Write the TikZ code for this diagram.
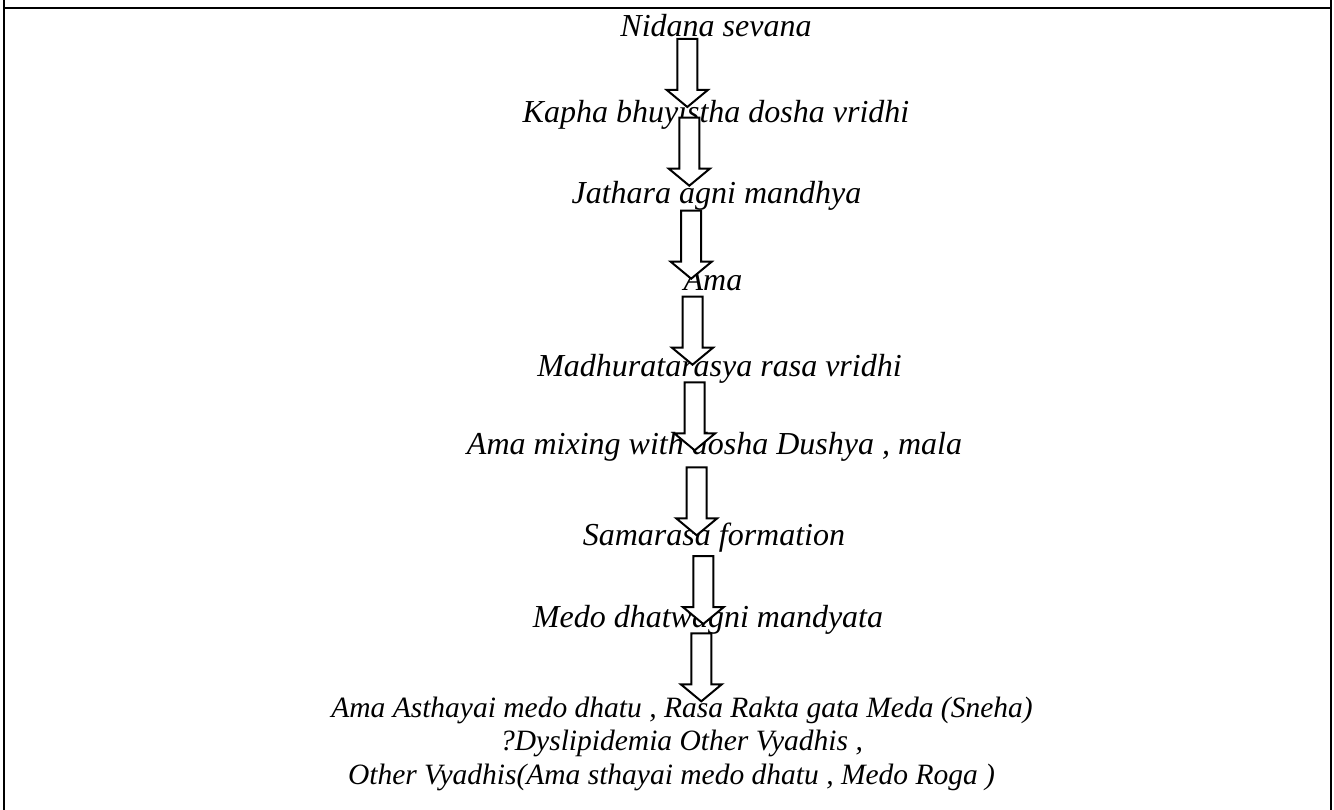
\documentclass[tikz,border=0pt]{standalone}
\usepackage{fontspec}
\setmainfont{Liberation Serif}
\begin{document}
\begin{tikzpicture}[x=1pt,y=-1pt,
  frameline/.style={line width=2pt, line cap=rect},
  arrowline/.style={line width=2pt, fill=white, draw=black, line join=miter},
  stepa/.style={anchor=base, inner sep=0pt, font=\fontsize{32}{36}\selectfont\itshape},
  stepb/.style={anchor=base, inner sep=0pt, font=\fontsize{29.5}{34}\selectfont\itshape},
  blockdown/.pic={\draw[arrowline] (-10,0) -- (-10,51) -- (-20.5,51) -- (0,68) -- (20.5,51) -- (10,51) -- (10,0) -- cycle;}
]
\useasboundingbox (0,0) rectangle (1334,810);
% frame
\coordinate (ftl) at (4,8);
\coordinate (ftr) at (1331,8);
\draw[frameline] (4,0) -- (4,810);
\draw[frameline] (1331,0) -- (1331,810);
\draw[frameline] (ftl) -- (ftr);
% texts
\node[stepa] (t1) at (716,37) {Nidana sevana};
\node[stepa] (t2) at (716,123) {Kapha bhuyistha dosha vridhi};
\node[stepa] (t3) at (716.5,204) {Jathara agni mandhya};
\node[stepa] (t4) at (713,291) {Ama};
\node[stepa] (t5) at (719.5,377) {Madhuratarasya rasa vridhi};
\node[stepa] (t6) at (714.5,454) {Ama mixing with dosha Dushya , mala};
\node[stepa] (t7) at (714,545) {Samarasa formation};
\node[stepa] (t8) at (708,627) {Medo dhatwagni mandyata};
\node[stepb] (t9) at (682,717) {Ama Asthayai medo dhatu , Rasa Rakta gata Meda (Sneha)};
\node[stepb] (t10) at (681.5,750.5) {?Dyslipidemia Other Vyadhis ,};
\node[stepb] (t11) at (671.5,784) {Other Vyadhis(Ama sthayai medo dhatu , Medo Roga )};
% arrows
\pic (a1) at (687.3,39) {blockdown};
\pic (a2) at (689.3,117.7) {blockdown};
\pic (a3) at (691.2,210.7) {blockdown};
\pic (a4) at (692.5,296.7) {blockdown};
\pic (a5) at (694.7,382.3) {blockdown};
\pic (a6) at (696.7,467.3) {blockdown};
\pic (a7) at (703.3,556) {blockdown};
\pic (a8) at (701.3,633.3) {blockdown};
\end{tikzpicture}
\end{document}
